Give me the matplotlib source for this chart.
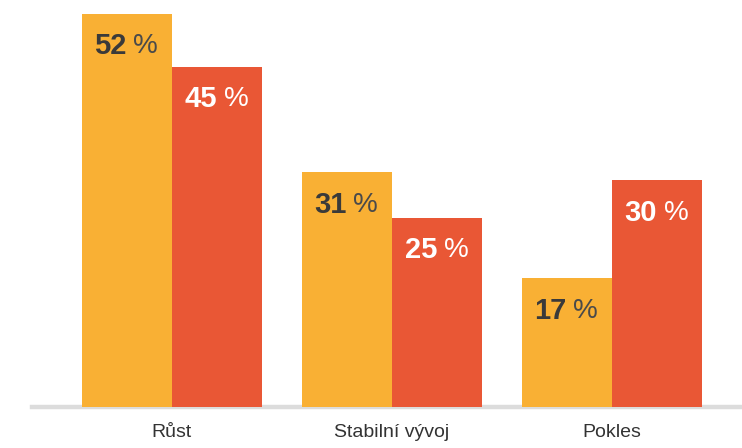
import numpy as np
import matplotlib.pyplot as plt

# survey answers, two series per category
categories = ['Růst', 'Stabilní vývoj', 'Pokles']
series_a = [52, 31, 17]
series_b = [45, 25, 30]

col_a = '#F9B034'
col_b = '#E95735'

plt.rcParams['font.family'] = ['Liberation Sans', 'DejaVu Sans']

fig = plt.figure(figsize=(7.42, 4.48), dpi=100)
ax = fig.add_axes([32 / 742, 41 / 448, 710 / 742, 407 / 448])

x = np.arange(len(categories))
w = 0.411

bars_a = ax.bar(x - w / 2, series_a, w, color=col_a, zorder=3)
bars_b = ax.bar(x + w / 2, series_b, w, color=col_b, zorder=3)

ax.axhline(0, color='#DCDCDC', lw=3.2, zorder=2, clip_on=False)

# value labels: bold number + regular percent sign
def label(bars, vals, dark):
    num_col = '#3A3A3A' if dark else 'white'
    pct_col = '#4A4A4A' if dark else 'white'
    for b, v in zip(bars, vals):
        cx = b.get_x() + b.get_width() / 2
        y = v - 4.3
        ax.text(cx + 0.0, y, str(v), ha='right', va='center', fontsize=21,
                fontweight='bold', color=num_col, zorder=4)
        ax.text(cx + 0.03, y, '%', ha='left', va='center', fontsize=20,
                color=pct_col, zorder=4)

label(bars_a, series_a, True)
label(bars_b, series_b, False)

ax.set_xlim(-0.636, 2.591)
ax.set_ylim(0, 53.8)
ax.set_xticks(x)
ax.set_xticklabels(categories, fontsize=14, color='#333333')
ax.tick_params(axis='x', length=0, pad=12)
ax.set_yticks([])
for s in ax.spines.values():
    s.set_visible(False)

fig.savefig('out.png', dpi=100)
